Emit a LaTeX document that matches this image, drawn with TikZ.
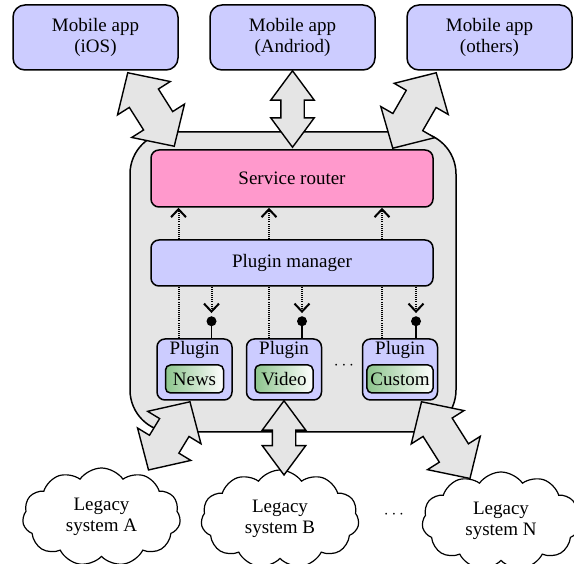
\documentclass[tikz,border=0pt]{standalone}
\usepackage{fontspec}
\setmainfont{Liberation Serif}
\usetikzlibrary{arrows.meta, positioning, calc, shapes.arrows, shapes.symbols}

\definecolor{appblue}{RGB}{204,204,255}
\definecolor{routerpink}{RGB}{255,153,204}
\definecolor{coregray}{RGB}{229,229,229}
\definecolor{taggreen}{RGB}{140,196,140}

\begin{document}
\begin{tikzpicture} [%
    x = 1pt, y = -1pt,
    node distance = 197pt,
    on grid,
    >= {Straight Barb[length=8pt, width=15pt, line width=2pt]},
    font = \fontsize{19}{21}\selectfont,
    box/.style = {%
      draw, line width = 1.5pt,
      rounded corners = 8pt,
      align = center, inner sep = 0pt },
    app/.style = {%
      box, fill = appblue,
      rounded corners = 12pt,
      minimum width = 165pt, minimum height = 65pt },
    layer/.style = {%
      box, minimum width = 282pt },
    plugin/.style = {%
      box, fill = appblue,
      minimum width = 75pt, minimum height = 61pt },
    tag/.style = {%
      draw, line width = 1.5pt,
      rounded corners = 5pt,
      left color = taggreen, right color = white,
      minimum width = 58pt, minimum height = 28pt,
      inner xsep = 3.5pt, inner ysep = 0pt },
    legacy/.style = {%
      cloud, draw, line width = 1.2pt,
      cloud puffs = 11, cloud puff arc = 110, aspect = 1.7,
      minimum width = 158pt, minimum height = 98pt,
      align = center, inner sep = 0pt },
    ball/.style = {%
      circle, fill, inner sep = 0pt, minimum size = 10pt },
    link/.style = {%
      line width = 2pt, dash pattern = on 1pt off 1.1pt },
    wire/.style = {line width = 1.5pt},
    pipe/.style = {%
      double arrow, draw, fill = coregray,
      line width = 1.4pt, inner sep = 0pt, text depth = 0pt },
    narrow pipe/.style = {%
      pipe, text height = 22pt,
      double arrow head extend = 10pt, double arrow tip angle = 73 },
    wide pipe/.style = {%
      pipe, text height = 33pt,
      double arrow head extend = 14pt, double arrow tip angle = 92 },
    bigarrow/.style = {%
      to path = {let \p1 = ($(\tikztotarget)-(\tikztostart)$),
                     \n1 = {veclen(\x1,\y1)} in
        (\tikztostart) -- node [sloped, #1, minimum height = \n1] {} (\tikztotarget)} }
  ]

\useasboundingbox (0,0) rectangle (574,564);

% platform body
\node[box, fill = coregray, rounded corners = 42pt,
      minimum width = 326pt, minimum height = 300pt] (core) at (293,282) {};

% clients
\node[app]                  (ios)     at (95.5,37.5) {Mobile app\\(iOS)};
\node[app, right = of ios]  (android)                {Mobile app\\(Andriod)};
\node[app, right = of android] (others)              {Mobile app\\(others)};

% inside the platform
\node[layer, fill = routerpink, minimum height = 57pt] (router)  at (292,178.5) {Service router};
\node[layer, fill = appblue,    minimum height = 46pt] (manager) at (292,263)   {Plugin manager};

\node[plugin, label = {[anchor = north, inner sep = 3pt]north:Plugin}] (news)   at (194.5,369.5) {};
\node[plugin, label = {[anchor = north, inner sep = 3pt]north:Plugin}] (video)  at (284,369.5)   {};
\node[plugin, label = {[anchor = north, inner sep = 3pt]north:Plugin}] (custom) at (400,369.5)   {};

\node[tag] (news-tag)   at ([yshift = -9.5pt]news.center)   {News};
\node[tag] (video-tag)  at ([yshift = -9.5pt]video.center)  {Video};
\node[tag] (custom-tag) at ([yshift = -9.5pt]custom.center) {Custom};

\node (plugin-dots) at (344,366) {$\cdots$};

% back ends
\node[legacy] (legacyA) at (101.5,517) {Legacy\\system A};
\node[legacy] (legacyB) at (280,519)   {Legacy\\system B};
\node[legacy] (legacyN) at (501,521)   {Legacy\\system N};

\node (legacy-dots) at (394,515) {$\cdots$};

% manager <-> router and plugins
\coordinate (news-up)   at ([xshift = -16pt]news.north);
\coordinate (video-up)  at ([xshift = -15pt]video.north);
\coordinate (custom-up) at ([xshift = -18pt]custom.north);

\draw[link] (news-up)   -- (news-up |- manager.south);
\draw[link] (video-up)  -- (video-up |- manager.south);
\draw[link] (custom-up) -- (custom-up |- manager.south);

\draw[link, ->] (news-up |- manager.north)   -- (news-up |- router.south);
\draw[link, ->] (video-up |- manager.north)  -- (video-up |- router.south);
\draw[link, ->] (custom-up |- manager.north) -- (custom-up |- router.south);

\node[ball] (news-ball)   at ([xshift = 17pt, yshift = 17pt]news.north)   {};
\node[ball] (video-ball)  at ([xshift = 18pt, yshift = 17pt]video.north)  {};
\node[ball] (custom-ball) at ([xshift = 16pt, yshift = 17pt]custom.north) {};

\draw[link, ->, shorten >= 3pt] (news-ball |- manager.south)   -- (news-ball);
\draw[link, ->, shorten >= 3pt] (video-ball |- manager.south)  -- (video-ball);
\draw[link, ->, shorten >= 3pt] (custom-ball |- manager.south) -- (custom-ball);

\draw[wire] (news-ball)   -- (news-ball |- news.north);
\draw[wire] (video-ball)  -- (video-ball |- video.north);
\draw[wire] (custom-ball) -- (custom-ball |- custom.north);

% big double arrows
\coordinate (ios-port)     at ([xshift = -51pt, yshift = -2pt]ios.south east);
\coordinate (router-west)  at ([xshift = 24pt, yshift = 3pt]router.north west);
\coordinate (others-port)  at ([xshift = 30pt, yshift = -2pt]others.south west);
\coordinate (router-east)  at ([xshift = -41pt, yshift = 1pt]router.north east);
\coordinate (news-port)    at ([xshift = -4.5pt, yshift = -1pt]news.south);
\coordinate (legacyA-port) at ([xshift = 47pt, yshift = 47pt]legacyA.center);
\coordinate (legacyB-port) at ([yshift = 44pt]legacyB.center);
\coordinate (custom-port)  at ([xshift = 21.5pt, yshift = -1pt]custom.south);
\coordinate (legacyN-port) at ([xshift = -31pt, yshift = 42.5pt]legacyN.center);

\path (ios-port)    to[bigarrow = wide pipe]   (router-west);
\path (android.south) to[bigarrow = narrow pipe] ([yshift = 2pt]android.south |- router.north);
\path (others-port) to[bigarrow = wide pipe]   (router-east);

\path (news-port)   to[bigarrow = wide pipe]   (legacyA-port);
\path (video.south) to[bigarrow = narrow pipe] (video.south |- legacyB-port);
\path (custom-port) to[bigarrow = wide pipe]   (legacyN-port);

\end{tikzpicture}
\end{document}
